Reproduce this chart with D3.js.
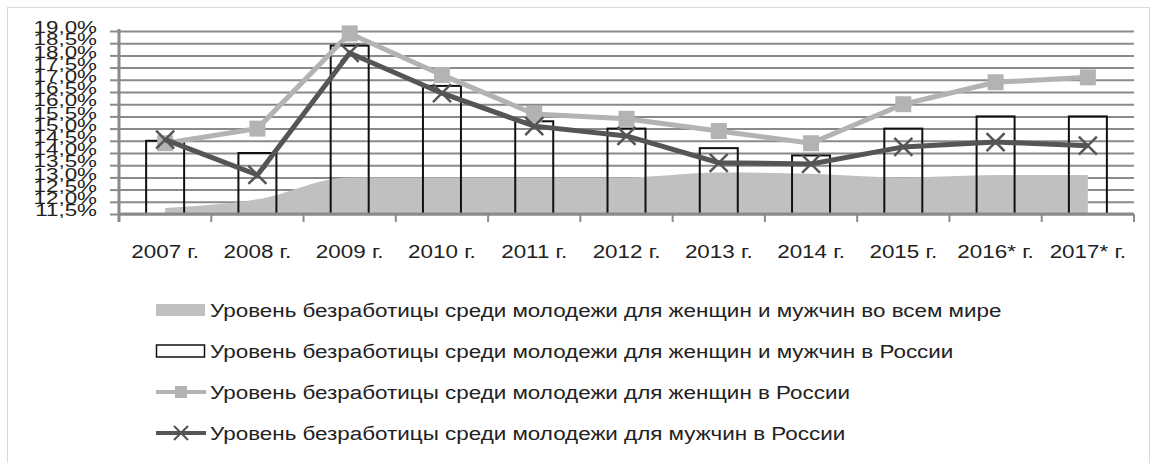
<!DOCTYPE html>
<html lang="ru">
<head>
<meta charset="utf-8">
<script src="https://cdn.jsdelivr.net/npm/d3@7"></script>
<title>Уровень безработицы среди молодежи</title>
<style>
    body { margin: 0; background: #fff; }
    text { fill: #222; }
</style>
</head>
<body>
<div id="chart"></div>
<script>
// categories and series values (%)
var years = ["2007 г.", "2008 г.", "2009 г.", "2010 г.", "2011 г.", "2012 г.", "2013 г.", "2014 г.", "2015 г.", "2016* г.", "2017* г."];
var worldBoth = [11.75, 12.1, 13.0, 13.0, 13.0, 13.0, 13.2, 13.15, 13.0, 13.1, 13.1];
var russiaBoth = [14.5, 14.0, 18.4, 16.75, 15.3, 15.0, 14.2, 13.9, 15.0, 15.5, 15.5];
var russiaWomen = [14.4, 15.0, 18.9, 17.2, 15.6, 15.4, 14.9, 14.4, 16.0, 16.9, 17.1];
var russiaMen = [14.55, 13.1, 18.1, 16.45, 15.1, 14.7, 13.6, 13.55, 14.25, 14.45, 14.3];
var yTicks = [11.5, 12, 12.5, 13, 13.5, 14, 14.5, 15, 15.5, 16, 16.5, 17, 17.5, 18, 18.5, 19];
var legendLabels = [
    "Уровень безработицы среди молодежи для женщин и мужчин во всем мире",
    "Уровень безработицы среди молодежи для женщин и мужчин в России",
    "Уровень безработицы среди молодежи для женщин в России",
    "Уровень безработицы среди молодежи для мужчин в России"
];

var W = 1156, H = 463;
var plotLeft = 119, plotRight = 1134, plotTop = 31, plotBottom = 214;

var svg = d3.select("#chart").append("svg")
    .attr("width", W)
    .attr("height", H);

// outer frame
svg.append("rect")
    .attr("x", 7.5).attr("y", 7.5)
    .attr("width", 1142).attr("height", 460)
    .attr("fill", "none")
    .attr("stroke", "#d9d9d9");

var x = d3.scaleBand().domain(years).range([plotLeft, plotRight]).padding(0);
var y = d3.scaleLinear().domain([11.5, 19]).range([plotBottom, plotTop]);
function cx(d, i) { return x(years[i]) + x.bandwidth() / 2; }

// gridlines + left axis (labels overlap like in the original)
var yAxis = svg.append("g")
    .attr("transform", "translate(" + plotLeft + ",0)")
    .call(d3.axisLeft(y).tickValues(yTicks).tickSize(9)
        .tickFormat(function(d) { return d3.format(".1f")(d).replace(".", ",") + "%"; }));
yAxis.select(".domain").remove();
yAxis.selectAll(".tick line").attr("stroke", "#8a8a8a").attr("stroke-width", 2);
yAxis.selectAll(".tick").append("line")
    .attr("x1", 0).attr("x2", plotRight - plotLeft)
    .attr("stroke", "#8a8a8a").attr("stroke-width", 2);
yAxis.selectAll(".tick text")
    .attr("x", -22 / 1.4)
    .attr("dy", "0.1em")
    .attr("transform", "scale(1.4,1)")
    .style("font-family", "Liberation Sans")
    .style("font-size", "16px")
    .attr("fill", "#222");

// world area
var area = d3.area()
    .x(cx)
    .y0(y(11.5))
    .y1(function(d) { return y(d); })
    .curve(d3.curveMonotoneX);
svg.append("path")
    .datum(worldBoth)
    .attr("d", area)
    .attr("fill", "#c0c0c0");

// Russia bars (outline only)
var barW = 38;
svg.selectAll(".bar")
    .data(russiaBoth)
    .enter().append("rect")
    .attr("class", "bar")
    .attr("x", function(d, i) { return cx(d, i) - barW / 2; })
    .attr("y", function(d) { return y(d); })
    .attr("width", barW)
    .attr("height", function(d) { return y(11.5) - y(d); })
    .attr("fill", "none")
    .attr("stroke", "#111")
    .attr("stroke-width", 2);

// axes lines
svg.append("line")
    .attr("x1", plotLeft).attr("x2", plotLeft)
    .attr("y1", plotTop - 2).attr("y2", plotBottom + 8)
    .attr("stroke", "#8a8a8a").attr("stroke-width", 3);
var xAxis = svg.append("g")
    .attr("transform", "translate(0," + plotBottom + ")");
xAxis.append("line")
    .attr("x1", plotLeft).attr("x2", plotRight)
    .attr("stroke", "#8a8a8a").attr("stroke-width", 3);
xAxis.selectAll(".xt")
    .data(years.concat(["end"]))
    .enter().append("line")
    .attr("x1", function(d, i) { return i < years.length ? x(d) : plotRight; })
    .attr("x2", function(d, i) { return i < years.length ? x(d) : plotRight; })
    .attr("y1", 0).attr("y2", 8)
    .attr("stroke", "#8a8a8a").attr("stroke-width", 2);
xAxis.selectAll(".xl")
    .data(years)
    .enter().append("text")
    .attr("transform", function(d, i) { return "translate(" + cx(d, i) + ",44) scale(1.18,1)"; })
    .attr("text-anchor", "middle")
    .style("font-family", "Liberation Sans")
    .style("font-size", "19px")
    .text(function(d) { return d; });

// women line
var line = d3.line().x(cx).y(function(d) { return y(d); });
svg.append("path")
    .datum(russiaWomen)
    .attr("d", line)
    .attr("fill", "none")
    .attr("stroke", "#b3b3b3")
    .attr("stroke-width", 5);
svg.selectAll(".sq")
    .data(russiaWomen)
    .enter().append("rect")
    .attr("x", function(d, i) { return cx(d, i) - 8; })
    .attr("y", function(d) { return y(d) - 8; })
    .attr("width", 16).attr("height", 16)
    .attr("fill", "#b3b3b3");

// men line
svg.append("path")
    .datum(russiaMen)
    .attr("d", line)
    .attr("fill", "none")
    .attr("stroke", "#555")
    .attr("stroke-width", 5);
svg.selectAll(".xm")
    .data(russiaMen)
    .enter().append("path")
    .attr("transform", function(d, i) { return "translate(" + cx(d, i) + "," + y(d) + ")"; })
    .attr("d", "M-9,-9L9,9M-9,9L9,-9")
    .attr("stroke", "#555")
    .attr("stroke-width", 2.5);

// legend
var legend = svg.append("g");
var ly = [310, 351, 392, 433];
var items = legend.selectAll(".li")
    .data(legendLabels)
    .enter().append("g")
    .attr("transform", function(d, i) { return "translate(156," + ly[i] + ")"; });
items.filter(function(d, i) { return i === 0; }).append("rect")
    .attr("x", 0).attr("y", -6).attr("width", 49).attr("height", 12)
    .attr("fill", "#c0c0c0");
items.filter(function(d, i) { return i === 1; }).append("rect")
    .attr("x", 0.5).attr("y", -6).attr("width", 48).attr("height", 12)
    .attr("fill", "none").attr("stroke", "#111").attr("stroke-width", 1.5);
items.filter(function(d, i) { return i === 2; }).each(function() {
    var g = d3.select(this);
    g.append("line").attr("x1", 0).attr("x2", 50).attr("stroke", "#b3b3b3").attr("stroke-width", 4);
    g.append("rect").attr("x", 19).attr("y", -6).attr("width", 12).attr("height", 12).attr("fill", "#b3b3b3");
});
items.filter(function(d, i) { return i === 3; }).each(function() {
    var g = d3.select(this);
    g.append("line").attr("x1", 0).attr("x2", 50).attr("stroke", "#555").attr("stroke-width", 4);
    g.append("path").attr("d", "M18,-7L32,7M18,7L32,-7").attr("stroke", "#555").attr("stroke-width", 2);
});
items.append("text")
    .attr("transform", "translate(54,0) scale(1.18,1)")
    .attr("dy", "0.35em")
    .style("font-family", "Liberation Sans")
    .style("font-size", "19px")
    .text(function(d) { return d; });
</script>
</body>
</html>
